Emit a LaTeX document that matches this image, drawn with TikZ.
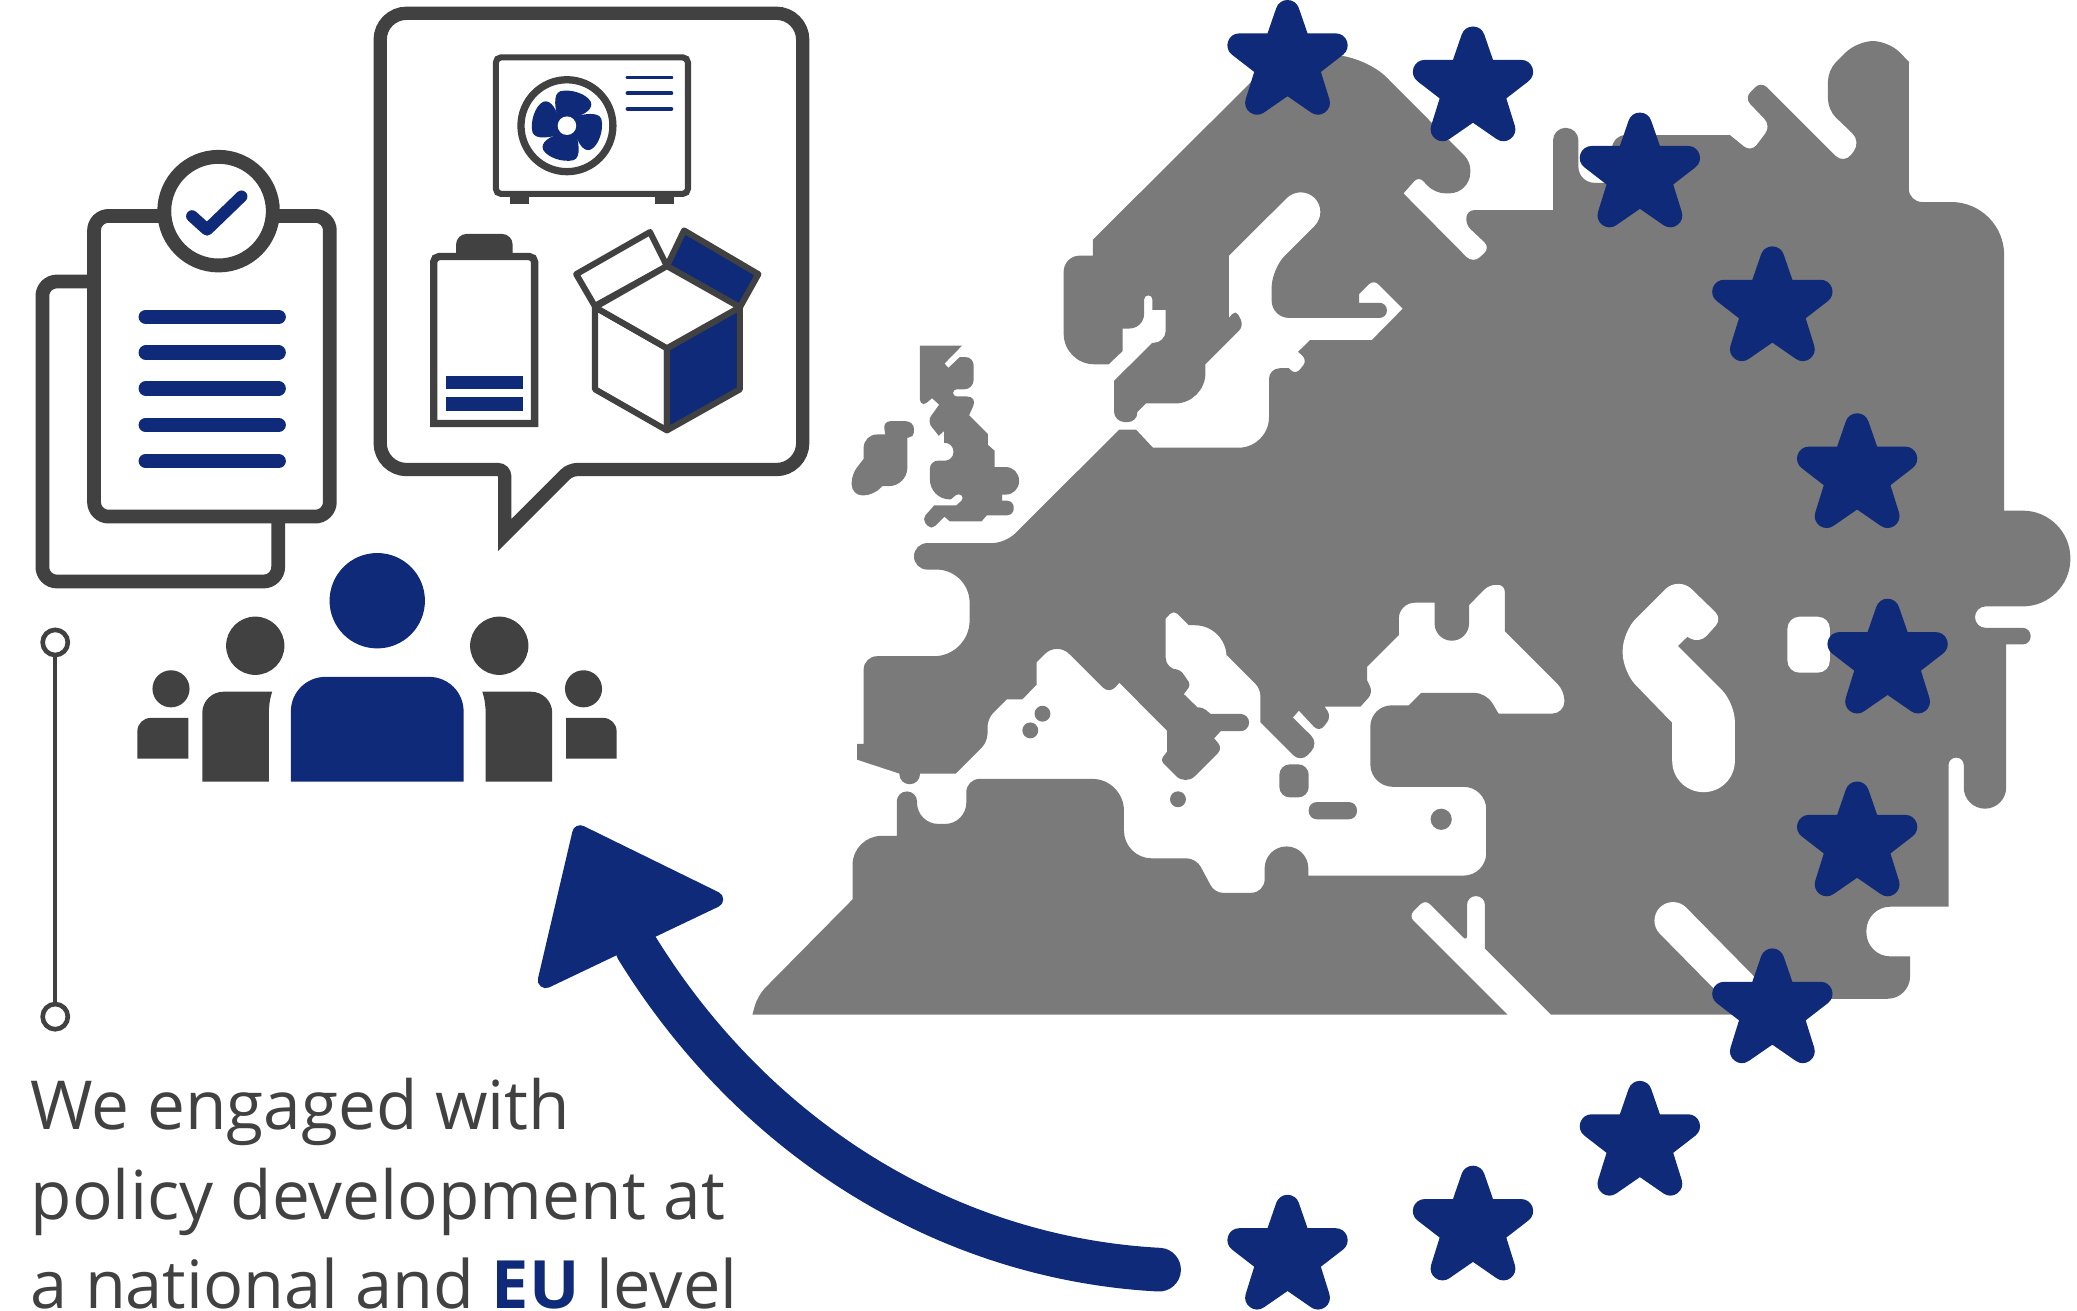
\documentclass[tikz,border=0pt]{standalone}
\usepackage{fontspec}
\setmainfont{Open Sans}
\definecolor{navy}{HTML}{0E2A78}
\definecolor{darkgr}{HTML}{414141}
\definecolor{mapgr}{HTML}{7A7A7A}
\tikzset{
  mapfill/.style={fill=mapgr},
  holefill/.style={fill=white},
  icon/.style={draw=darkgr,line width=#1},
  icon/.default=4.6pt,
  navybar/.style={draw=navy,line cap=round},
  solidnavy/.style={fill=navy},
  soliddark/.style={fill=darkgr},
  starshape/.style={fill=navy,draw=navy,line width=18pt,line join=round},
  caption/.style={anchor=base west,inner sep=0pt,text=darkgr,font=\fontsize{51}{51}\selectfont},
  ring/.style={circle,draw=darkgr,line width=3.5pt,fill=white,minimum size=19pt,inner sep=0pt},
}
\newcommand\rpoly[3]{%
  \gdef\mapP{}%
  \foreach \vx/\vy/\vr in {#3}{\xdef\mapP{\mapP [rounded corners=\vr pt] -- (\vx,\vy)}}%
  \fill[#1] (#2) \mapP [sharp corners] -- cycle;}
\newcommand\euStar[2]{%
  \fill[starshape,shift={(#1,#2+44)}] (0,-35) -- (8.7,-9.8) -- (36.4,-9.8) -- (14.7,7) -- (23,33.6) -- (0,17.7) -- (-23,33.6) -- (-14.7,7) -- (-36.4,-9.8) -- (-8.7,-9.8) -- cycle;}
\begin{document}
\begin{tikzpicture}[x=1pt,y=-1pt]
\useasboundingbox (0,0) rectangle (1568,989.7);
% ---- map
\rpoly{mapfill}{568,766}{
1138/766/0,1063.5/691.5/5,1076/679/5,1107.5/710.5/4,1107.5/676.5/6.5,1121/676.5/6.5,1121/716/0,1171/766/0,
1340/766/0,1340/754/0,1442/754/17,1442/722/0,1409/722/18,1409/684.5/18,1471/684.5/0,1471/572/5.5,1482.5/572/5.5,
1482.5/610.5/16,1514.5/610.5/16,1514.5/486.5/0,1533/486.5/6,1533/474/6,1491/474/8,1491/457.8/8,1563/457.8/36,1563/385.5/36,
1513/385.5/0,1513/152.5/40,1441/152.5/10,1441/46.6/0,1426/31/12,1402/31/12,1380/53/8,1380/83/8,1405/107/9,1392/124/9,
1329.5/61.5/6,1317/74/6,1337/95/7,1322/115/7,1306/102/0,1217/102/10,1217/138/0,1191.6/138/12,1191.6/96.5/9.5,1172.4/96.5/9.5,1172.4/158.6/0,
1107/158.6/6,1107/170/4,1125/187/6,1112/199/7,1059.5/146/0,1071/133/5,1083/146/8,1110/146/16,1110/122/6,
1030/41.5/24,965/41.5/0,825/181/0,825/193/0,803/193/12,803/275/23,837/275/0,847.5/265/0,847.5/248/0,863.7/248/11,863.7/223/3.1,870/223/3.1,870/234/0,880/234/0,880/258.8/9,870/258.8/0,
841/287.5/0,841/318.6/8,858.6/318.6/7,858.6/311/0,865/304.6/0,910/304.6/23,910/275/0,939/246/5,933/234/4,927.7/240/0,927.7/193/0,
982/139/15,1003/160/15,960/203/14,960/240/13,1047/240/5.5,1047/228.6/5.5,1026/228.6/0,1026/222/0,1037/211/5,1059/233/0,1035.6/256.7/0,989/256.7/0,980/265.6/0,987/272/5,978/283/5,973/278/0,
958/278/8,958/338/23,870.4/338/0,857.6/324.3/0,845/324.3/0,759/410/10,690/410/10,690/430/10,732/430/25,732/495.4/27,652/495.4/10,652/561.5/0,647/561.5/0,647/573.5/0,679/584/0,
679/592/7.5,694.5/592/7.5,694.5/584/0,721.5/584/0,745.5/560/6,745.5/542.5/6,760/528/0,771.7/528/0,782.5/517/0,782.5/500/0,798/484.5/13,837.5/524/7,845/515.4/0,881/551.6/0,881/567.5/0,
876/574/3,895/593/10,923/565/5,916.6/557.4/0,921.5/552/0,943/552/6.5,943/539/6.5,914/539/0,908/534/3,904/534/0,893.7/524/0,899/517/3,891/505.5/3,880/505.5/9,880/467/0,886/460.5/4,897.4/472/0,
926/472/24,926/494.5/0,951.5/520/5,951.5/545.3/0,982/575.8/8,995.5/561/8,976/541.6/0,980.6/536.5/0,996/553/6,1005/541/5,1000/533.5/0,1027/533.5/0,1036.5/523/5,1032/513.4/0,1032/503.5/0,
1056/479.4/0,1056/455/12,1083/455/0,1083/483.7/13,1109/483.7/13,1109/456.8/0,1124/441.5/5,1136/441.5/5,1136/476.5/0,1181/521.5/7,1181/538.7/9,1131.3/538.7/0,1122/523/9,1073/523/0,1063.5/532.5/0,
1034.5/532.5/16,1034.5/594/17,1122/594/17,1122/661/17,987.7/661/0,987.7/639/16.5,954.7/639/16.5,954.7/674/10,917/674/6,903/648/7,848.5/648/21,848.5/588/24,729.5/588/10,729.5/622/16,692.3/622/16,
692.3/597.5/7.5,677/597.5/7.5,677/631/0,643.6/631/22,643.6/679/0,572/751.5/8}
% Great Britain
\rpoly{mapfill}{694.5,261}{
726.2/261/0,713/274.5/0,716/277.7/0,724.5/269.6/0,735/269.6/6,735/293.9/7,719.5/293.9/2.7,719.5/299.3/2.7,738/299.3/8,731.6/313.5/0,745.7/327.6/0,745.7/335.7/0,750.8/340.2/0,750.8/352.6/0,
769.3/352.6/10,769.3/373.4/10,756.5/373.4/0,756.5/378/0,765.3/378/5,765.3/389/5,745/389/0,741/393.6/0,717/393.6/0,713/390/0,703/400/4,696/392/4,705.3/381.5/0,722/381.5/0,728/376/3,723.8/372/3,717.8/377/0,
702/377/15,702/347.8/6,719.8/347.8/6.5,719.8/334.3/6.5,712.7/334.3/0,712.7/325.4/0,708.7/329/0,700/318/5,709/305.5/0,703.6/300.6/0,698.6/305/2,694.5/305/3}
% Ireland
\rpoly{mapfill}{668.2,328}{
667/318/5,690/318/6,690/330.3/4,685/330.3/0,685/367/14,666/367/0,660/374/8,643/374/8,643/358/6,652/346.4/0,652/328/10}
% Caspian, seas and gulf
\rpoly{holefill}{1262.4,545.6}{
1225/507/14,1225/477/14,1267/435/14,1300/467/7,1283/486/8,1273.8/480.7/0,1266.6/487.7/0,1309.7/530.7/14,1309.7/598/23.5,1262.4/598/23.5}
\fill[holefill,rounded corners=9pt] (1349.4,465.6) rectangle (1381.4,507.8);
\draw[white,line width=28pt,line cap=round] (1263,695) -- (1322,755);
% islands
\fill[mapfill] (787,538.8) circle (6);
\fill[mapfill] (777.8,551.4) circle (6);
\fill[mapfill] (889.3,603.4) circle (6);
\fill[mapfill] (1088,618.5) circle (8);
\fill[mapfill,rounded corners=8pt] (965.8,577) rectangle (988,602);
\fill[mapfill,rounded corners=6pt] (988,605.5) rectangle (1024.4,618.5);
% stars
\euStar{972}{0}\euStar{1112}{20}\euStar{1238}{85}\euStar{1338}{186}\euStar{1402}{312}\euStar{1425}{452}
\euStar{1402}{590}\euStar{1338}{716}\euStar{1238}{816}\euStar{1112}{880}\euStar{972}{902}
% ---- curved arrow
\draw[navy,line width=33pt,line cap=round] (875,958.5) .. controls (715,950) and (570,860) .. (481,716);
\fill[solidnavy,draw=navy,line width=12pt,line join=round] (438,629) -- (540,679) -- (412,740) -- cycle;
% ---- clipboards
\draw[icon=10.4pt,fill=white,rounded corners=11pt] (32,212.5) rectangle (210,439);
\draw[icon=10.4pt,fill=white,rounded corners=11pt] (71,163) rectangle (249,390);
\draw[icon=10.5pt,fill=white] (165,159.4) circle (41);
\draw[navy,line width=9pt,line cap=round,line join=round] (145,163.2) -- (156.3,173.4) -- (182.3,148.3);
\foreach \ly in {239.2,266.2,293.2,320.8,348.1}{\draw[navybar,line width=10.8pt] (110,\ly) -- (210.4,\ly);}
% ---- speech bubble
\draw[icon=10pt,fill=white,line join=miter] (287,30) [rounded corners=20pt] -- (287,10) -- (606,10) -- (606,354.5) [rounded corners=5pt] -- (430.5,354.5) [sharp corners] -- (381,404) [rounded corners=5pt] -- (381,354.5) [rounded corners=20pt] -- (287,354.5) [sharp corners] -- cycle;
% heat pump
\draw[icon,fill=white,rounded corners=4pt] (374.3,43.3) rectangle (519.4,146.4);
\fill[soliddark] (385,148) rectangle (399,154.2);
\fill[soliddark] (494.7,148) rectangle (508.6,154.2);
\draw[icon=5.5pt,fill=white] (428,94.9) circle (34.7);
\foreach \a in {0,90,180,270}{
  \fill[solidnavy,shift={(428,94.9)},rotate=\a] (-6,-3) .. controls (-9,-12) and (-11,-24) .. (-5,-26) .. controls (3,-28) and (15,-24) .. (18,-18) .. controls (20,-13) and (14,-9) .. (8,-7) -- (0,0) -- cycle;}
\fill[white] (428,94.9) circle (7);
\foreach \ly in {58.5,70.4,82.2}{\draw[navybar,line width=3pt] (473.8,\ly) -- (506.8,\ly);}
% battery
\fill[soliddark] (344.3,192) [rounded corners=8pt] -- (344.3,176.6) -- (387,176.6) [sharp corners] -- (387,192) -- cycle;
\draw[icon=5.5pt,fill=white] (327.4,319.7) [rounded corners=4pt] -- (327.4,193.7) -- (403.6,193.7) [sharp corners] -- (403.6,319.7) -- cycle;
\fill[solidnavy] (336.7,283.9) rectangle (394.6,293.9);
\fill[solidnavy] (336.7,300) rectangle (394.6,310.3);
% box
\draw[icon,fill=white,line join=round] (449,231) -- (435,207) -- (490.7,175.2) -- (503.5,200.9) -- cycle;
\draw[icon,fill=navy,line join=round] (503.5,200.9) -- (516.4,174) -- (572.5,207) -- (558.6,231.9) -- cycle;
\draw[icon,fill=white,line join=round] (449.2,231.9) -- (503.5,262.9) -- (503.5,324.9) -- (449.2,293.9) -- cycle;
\draw[icon,fill=navy,line join=round] (503.5,262.9) -- (558.6,231.9) -- (558.6,293.9) -- (503.5,324.9) -- cycle;
\draw[icon,fill=white,line join=round] (449.2,231.9) -- (503.5,200.9) -- (558.6,231.9) -- (503.5,262.9) -- cycle;
% ---- people
\fill[solidnavy] (284.8,453.5) circle (36);
\fill[solidnavy] (219.6,590) [rounded corners=26pt] -- (219.6,511) -- (350,511) [sharp corners] -- (350,590) -- cycle;
\fill[soliddark] (192.7,487.5) circle (22);
\fill[soliddark] (376.9,487.5) circle (22);
\fill[soliddark] (152.7,590) [rounded corners=16pt] -- (152.7,522.2) [sharp corners] -- (205.5,522.2) .. controls (203.5,528) and (202.9,534) .. (202.9,540) -- (202.9,590) -- cycle;
\fill[soliddark] (416.9,590) [rounded corners=16pt] -- (416.9,522.2) [sharp corners] -- (364.1,522.2) .. controls (366.1,528) and (366.7,534) .. (366.7,540) -- (366.7,590) -- cycle;
\fill[soliddark] (129.1,520) circle (14);
\fill[soliddark] (440.5,520) circle (14);
\fill[soliddark] (103.7,572.8) [rounded corners=10pt] -- (103.7,542) [sharp corners] -- (142.3,542) -- (142.3,572.8) -- cycle;
\fill[soliddark] (465.5,572.8) [rounded corners=10pt] -- (465.5,542) [sharp corners] -- (427.3,542) -- (427.3,572.8) -- cycle;
% ---- timeline
\node[ring] (ringtop) at (41.7,485) {};
\node[ring] (ringbot) at (41.7,767.5) {};
\draw[darkgr,line width=3.4pt] (ringtop) -- (ringbot);
% ---- caption
\node[caption] (lineone) at (23,853) {We engaged with};
\node[caption] (linetwo) at (23,921) {policy development at};
\node[caption,font=\fontsize{50.3}{50.3}\selectfont] (linethree) at (23,987.5) {a national and \textcolor{navy}{\textbf{EU}} level};
\end{tikzpicture}
\end{document}
